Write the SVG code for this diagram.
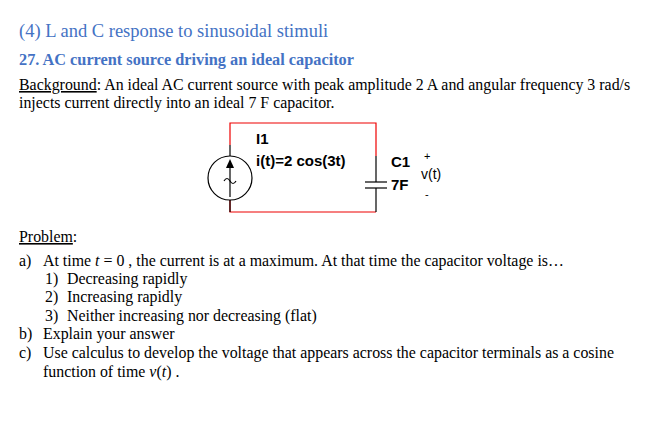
<svg xmlns="http://www.w3.org/2000/svg" width="659" height="421" viewBox="0 0 659 421">
<style>
.s{font-family:"Liberation Serif",serif;font-size:15.9px;fill:#000}
.a{font-family:"Liberation Sans",sans-serif;font-size:15px;font-weight:bold;fill:#000}
.w{stroke:#000;stroke-width:1.2;fill:none}
.r{stroke:#e00;stroke-width:1.2;fill:none}
</style>
<rect width="659" height="421" fill="#fff"/>
<text x="19" y="37" font-family="Liberation Serif,serif" font-size="18.5" fill="#4472c4">(4) L and C response to sinusoidal stimuli</text>
<text x="19" y="65" font-family="Liberation Serif,serif" font-size="16.3" font-weight="bold" fill="#4472c4">27. AC current source driving an ideal capacitor</text>
<text class="s" x="19" y="90"><tspan text-decoration="underline">Background</tspan>: An ideal AC current source with peak amplitude 2 A and angular frequency 3 rad/s</text>
<text class="s" x="19" y="108">injects current directly into an ideal 7 F capacitor.</text>
<g id="wires">
<polyline class="r" points="230,145 230,123 376,123 376,156"/>
<polyline class="r" points="230,200 230,212 376,212"/>
<line class="w" x1="230" y1="145" x2="230" y2="156"/>
<line class="w" x1="230" y1="200" x2="230" y2="212"/>
<line class="w" x1="376" y1="156" x2="376" y2="182"/>
<line class="w" x1="376" y1="188" x2="376" y2="212"/>
</g>
<g id="I1">
<circle class="w" cx="230" cy="178" r="22"/>
<line class="w" x1="230" y1="168" x2="230" y2="197"/>
<polygon points="230,159 226,168 234,168" fill="#000"/>
<path class="w" d="M224,181 q3,-5 6,0 q3,5 6,0"/>
<text class="a" x="256" y="144">I1</text>
<text class="a" x="256" y="166">i(t)=2 cos(3t)</text>
</g>
<g id="C1">
<line class="w" x1="365" y1="182" x2="387" y2="182" stroke-width="2"/>
<line class="w" x1="365" y1="188" x2="387" y2="188" stroke-width="2"/>
<text class="a" x="391" y="167">C1</text>
<text class="a" x="391" y="190">7F</text>
<text x="424" y="160" font-family="Liberation Sans,sans-serif" font-size="11">+</text>
<text x="421" y="179" font-family="Liberation Sans,sans-serif" font-size="14">v(t)</text>
<text x="425" y="198" font-family="Liberation Sans,sans-serif" font-size="11">-</text>
</g>
<text class="s" x="19" y="242"><tspan text-decoration="underline">Problem</tspan>:</text>
<text class="s" x="19" y="266">a)</text><text class="s" x="43" y="266">At time <tspan font-style="italic">t</tspan> = 0 , the current is at a maximum. At that time the capacitor voltage is…</text>
<text class="s" x="45" y="284">1)</text><text class="s" x="67" y="284">Decreasing rapidly</text>
<text class="s" x="45" y="302">2)</text><text class="s" x="67" y="302">Increasing rapidly</text>
<text class="s" x="45" y="321">3)</text><text class="s" x="67" y="321">Neither increasing nor decreasing (flat)</text>
<text class="s" x="19" y="339">b)</text><text class="s" x="43" y="339">Explain your answer</text>
<text class="s" x="19" y="358">c)</text><text class="s" x="43" y="358">Use calculus to develop the voltage that appears across the capacitor terminals as a cosine</text>
<text class="s" x="43" y="377">function of time  <tspan font-style="italic">v</tspan>(<tspan font-style="italic">t</tspan>) .</text>
</svg>
